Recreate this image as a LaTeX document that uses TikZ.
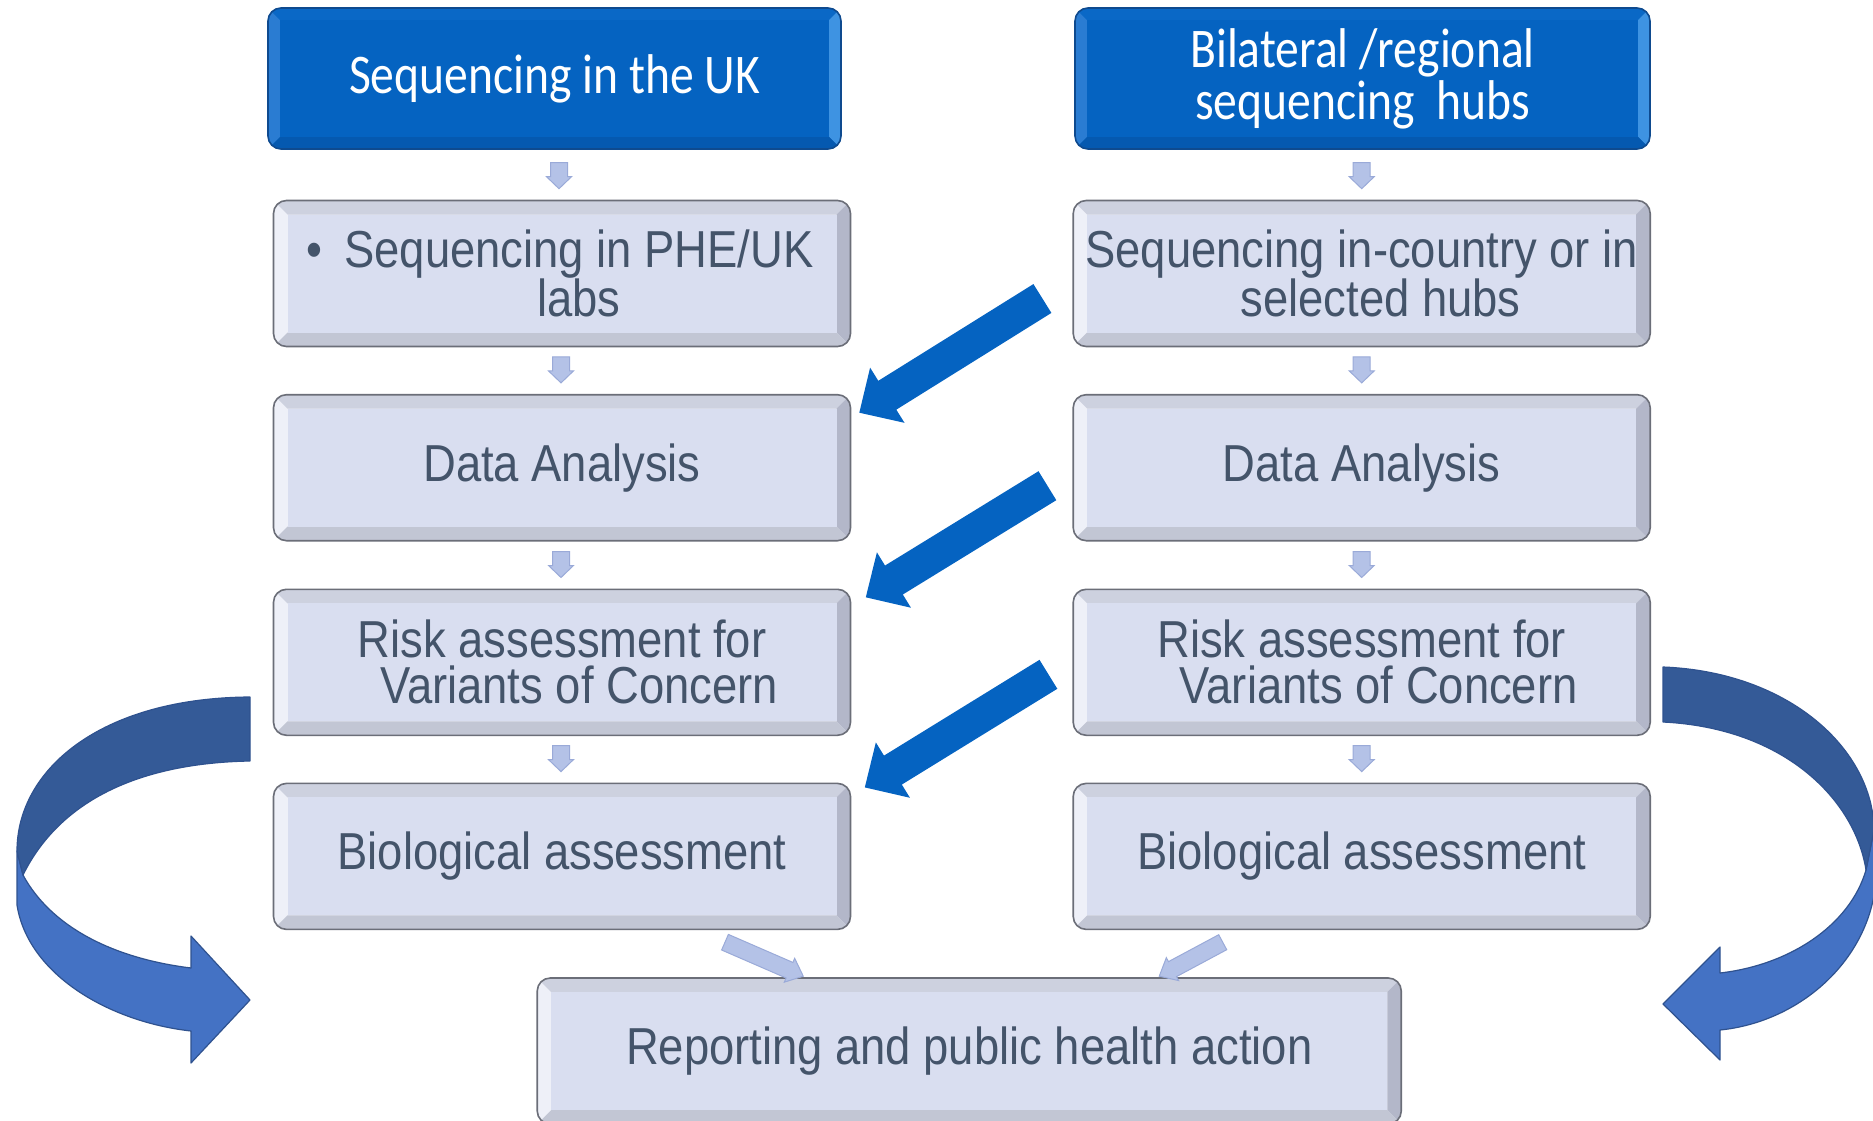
\documentclass[tikz,border=0pt]{standalone}
\usepackage{fontspec}
\usetikzlibrary{calc}
\newfontfamily\grayfont{Liberation Sans}[FakeStretch=0.873]
\newfontfamily\bluefont{Carlito}[FakeStretch=0.85]
\definecolor{boxblue}{HTML}{0563C1}
\definecolor{blueedge}{HTML}{0E4A8F}
\definecolor{blueleft}{HTML}{2A7CD2}
\definecolor{blueright}{HTML}{3E93E2}
\definecolor{bluetop}{HTML}{0A68C6}
\definecolor{bluebot}{HTML}{0559B0}
\definecolor{boxface}{HTML}{D9DEF0}
\definecolor{bevleft}{HTML}{EEF0F8}
\definecolor{bevtop}{HTML}{CDD1DF}
\definecolor{bevright}{HTML}{B3B7C9}
\definecolor{bevbot}{HTML}{C2C6D4}
\definecolor{boxedge}{HTML}{6B6E78}
\definecolor{txtgray}{HTML}{44546A}
\definecolor{arrfill}{HTML}{B4C2E7}
\definecolor{arredge}{HTML}{9AAAD8}
\definecolor{bigblue}{HTML}{0563C1}
\definecolor{banddark}{HTML}{345A97}
\definecolor{bandlight}{HTML}{4472C4}
\definecolor{bandline}{HTML}{2F528F}
\newcommand\blockarrow[6]{%
  \coordinate (ba-t) at (#2);
  \coordinate (ba-p) at (#3);
  \coordinate (ba-b) at ($(ba-p)!#6!(ba-t)$);
  \path[#1] ($(ba-t)!#4!90:(ba-p)$) -- ($(ba-b)!#4!90:(ba-p)$) -- ($(ba-b)!#5!90:(ba-p)$) -- (ba-p)
    -- ($(ba-b)!#5!-90:(ba-p)$) -- ($(ba-b)!#4!-90:(ba-p)$) -- ($(ba-t)!#4!-90:(ba-p)$) -- cycle;
}
\begin{document}
\begin{tikzpicture}[x=1pt,y=-1pt,
  graybox/.style={rounded corners=13pt, draw=boxedge, line width=1.6pt, fill=bevleft,
    minimum width=577pt, minimum height=146pt, inner sep=0pt, align=center, text=txtgray,
    font=\grayfont\fontsize{52}{46}\selectfont,
    path picture={
      \coordinate (ppnw) at (path picture bounding box.north west);
      \coordinate (ppse) at (path picture bounding box.south east);
      \coordinate (ppne) at (path picture bounding box.north east);
      \coordinate (ppsw) at (path picture bounding box.south west);
      \fill[sharp corners, bevtop] (ppnw) -- (ppne) -- ($(ppne)+(-14,14)$) -- ($(ppnw)+(14,14)$) -- cycle;
      \fill[sharp corners, bevright] (ppne) -- (ppse) -- ($(ppse)+(-14,-14)$) -- ($(ppne)+(-14,14)$) -- cycle;
      \fill[sharp corners, bevbot] (ppse) -- (ppsw) -- ($(ppsw)+(14,-14)$) -- ($(ppse)+(-14,-14)$) -- cycle;
      \fill[sharp corners, boxface] ($(ppnw)+(14,14)$) rectangle ($(ppse)+(-14,-14)$);
    }},
  bluebox/.style={rounded corners=13pt, draw=blueedge, line width=1.6pt, fill=boxblue,
    minimum height=141pt, inner sep=0pt, align=center, text=white,
    font=\bluefont\fontsize{56}{52}\selectfont,
    path picture={
      \coordinate (ppnw) at (path picture bounding box.north west);
      \coordinate (ppse) at (path picture bounding box.south east);
      \coordinate (ppne) at (path picture bounding box.north east);
      \coordinate (ppsw) at (path picture bounding box.south west);
      \fill[sharp corners, blueleft] (ppnw) -- ($(ppnw)+(12,12)$) -- ($(ppsw)+(12,-12)$) -- (ppsw) -- cycle;
      \fill[sharp corners, bluetop] (ppnw) -- (ppne) -- ($(ppne)+(-12,12)$) -- ($(ppnw)+(12,12)$) -- cycle;
      \fill[sharp corners, blueright] (ppne) -- (ppse) -- ($(ppse)+(-12,-12)$) -- ($(ppne)+(-12,12)$) -- cycle;
      \fill[sharp corners, bluebot] (ppse) -- (ppsw) -- ($(ppsw)+(12,-12)$) -- ($(ppse)+(-12,-12)$) -- cycle;
      \fill[sharp corners, boxblue] ($(ppnw)+(12,12)$) rectangle ($(ppse)+(-12,-12)$);
    }},
  smallarr/.style={fill=arrfill, draw=arredge, line width=1pt},
  bigarr/.style={fill=bigblue},
  darkband/.style={fill=banddark, draw=bandline, line width=1.2pt, line join=round},
  lightband/.style={fill=bandlight, draw=bandline, line width=1.2pt, line join=round}]

\useasboundingbox (0,0) rectangle (1873,1121);
\fill[white] (0,0) rectangle (1873,1121);

% left curved arrow
\path[lightband] (17,851) -- (17,905) .. controls (28,975) and (110,1022) .. (191,1031)
  -- (191,1063) -- (250,1000) -- (191,936) -- (191,968)
  .. controls (110,958) and (50,925) .. (23,875) -- cycle;
\path[darkband] (250,697) .. controls (100,698) and (17,770) .. (17,851) -- (23,875)
  .. controls (60,800) and (140,763) .. (250,761) -- cycle;

% right curved arrow
\path[lightband] (1874,830) -- (1876,880) .. controls (1870,960) and (1800,1022) .. (1720,1030)
  -- (1720,1060) -- (1663,1004) -- (1720,947) -- (1720,973)
  .. controls (1790,965) and (1850,925) .. (1866,870) -- cycle;
\path[darkband] (1663,667) .. controls (1790,672) and (1873,750) .. (1874,830) -- (1866,870)
  .. controls (1855,800) and (1785,728) .. (1663,722) -- cycle;

% top boxes
\node[bluebox, minimum width=573pt] (b1) at (554.5,78.5) {Sequencing in the UK};
\node[bluebox, minimum width=575pt] (b2) at (1362.5,78.5) {Bilateral /regional\\sequencing\ \ hubs};

% left column
\node[graybox] (l1) at (562,273.5) {\hspace*{34pt}\makebox[0pt][r]{\textbullet\hspace{22pt}}Sequencing in PHE/UK\\\hspace*{34pt}labs};
\node[graybox] (l2) at (562,467.7) {Data Analysis};
\node[graybox] (l3) at (562,662.3) {Risk assessment for\\\hspace*{34pt}Variants of Concern};
\node[graybox] (l4) at (562,856.4) {Biological assessment};

% right column
\node[graybox] (r1) at (1361.7,273.5) {Sequencing in-country or in\\\hspace*{38pt}selected hubs};
\node[graybox] (r2) at (1361.7,467.7) {Data Analysis};
\node[graybox] (r3) at (1361.7,662.3) {Risk assessment for\\\hspace*{34pt}Variants of Concern};
\node[graybox] (r4) at (1361.7,856.4) {Biological assessment};

% bottom
\node[graybox, minimum width=864pt] (bot) at (969.25,1051) {Reporting and public health action};

% small down arrows
\blockarrow{smallarr}{$(l1.north)+(-3,-37)$}{$(l1.north)+(-3,-11)$}{8.5pt}{12.5pt}{12pt}
\blockarrow{smallarr}{$(l2.north)+(-1,-37)$}{$(l2.north)+(-1,-11)$}{8.5pt}{12.5pt}{12pt}
\blockarrow{smallarr}{$(l3.north)+(-1,-37)$}{$(l3.north)+(-1,-11)$}{8.5pt}{12.5pt}{12pt}
\blockarrow{smallarr}{$(l4.north)+(-1,-37)$}{$(l4.north)+(-1,-11)$}{8.5pt}{12.5pt}{12pt}
\blockarrow{smallarr}{$(r1.north)+(0,-37)$}{$(r1.north)+(0,-11)$}{8.5pt}{12.5pt}{12pt}
\blockarrow{smallarr}{$(r2.north)+(0,-37)$}{$(r2.north)+(0,-11)$}{8.5pt}{12.5pt}{12pt}
\blockarrow{smallarr}{$(r3.north)+(0,-37)$}{$(r3.north)+(0,-11)$}{8.5pt}{12.5pt}{12pt}
\blockarrow{smallarr}{$(r4.north)+(0,-37)$}{$(r4.north)+(0,-11)$}{8.5pt}{12.5pt}{12pt}

% small diagonal arrows to the bottom box
\blockarrow{smallarr}{$(l4.south)+(163,12)$}{$(bot.north)+(-166,-1)$}{8.5pt}{13pt}{15pt}
\blockarrow{smallarr}{$(r4.south)+(-139,12)$}{$(bot.north)+(190,-1)$}{8.5pt}{13pt}{15pt}

% big diagonal arrows
\blockarrow{bigarr}{$(r1.west)+(-30,25)$}{$(l2.east)+(8,-55)$}{17pt}{32.5pt}{33pt}
\blockarrow{bigarr}{$(r2.west)+(-25,18)$}{$(l3.east)+(14.5,-65)$}{17pt}{32.5pt}{33pt}
\blockarrow{bigarr}{$(r3.west)+(-24,12)$}{$(l4.east)+(13.5,-69)$}{17pt}{32.5pt}{33pt}
\end{tikzpicture}
\end{document}
